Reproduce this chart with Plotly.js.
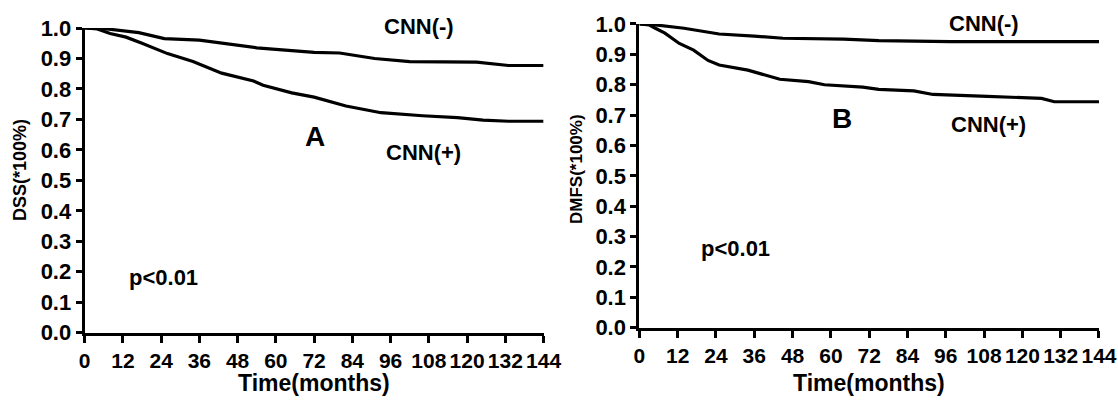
<!DOCTYPE html>
<html>
<head>
<meta charset="utf-8">
<script src="https://cdn.plot.ly/plotly-3.0.1.min.js"></script>
<style>html,body{margin:0;padding:0;background:#fff;}#chart{width:1118px;height:402px;}</style>
</head>
<body>
<div id="chart"></div>
<script>
// Panel A: DSS
const dssNegMonths = [0, 7, 17, 25, 36, 54, 72, 80, 91, 102, 123, 133, 144];
const dssNegValues = [1.0, 0.997, 0.985, 0.965, 0.96, 0.935, 0.92, 0.918, 0.90, 0.89, 0.888, 0.877, 0.877];
const dssPosMonths = [0, 4, 8, 13, 18, 26, 34, 43, 53, 56, 65, 72, 82, 93, 106, 117, 125, 133, 144];
const dssPosValues = [1.0, 0.997, 0.982, 0.97, 0.95, 0.916, 0.89, 0.852, 0.826, 0.812, 0.787, 0.773, 0.744, 0.722, 0.712, 0.706, 0.698, 0.694, 0.694];
// Panel B: DMFS
const dmfsNegMonths = [0, 5, 14, 21, 25, 36, 45, 64, 75, 97.5, 144];
const dmfsNegValues = [1.0, 0.997, 0.986, 0.975, 0.967, 0.96, 0.953, 0.95, 0.945, 0.942, 0.942];
const dmfsPosMonths = [0, 3, 5, 8, 12.5, 17, 21.5, 25, 34, 39, 44, 53, 58, 70, 75, 86, 92, 109, 120, 126, 130, 144];
const dmfsPosValues = [1.0, 0.997, 0.986, 0.97, 0.936, 0.914, 0.88, 0.865, 0.848, 0.832, 0.818, 0.81, 0.80, 0.792, 0.785, 0.78, 0.768, 0.762, 0.758, 0.755, 0.744, 0.744];

const xTickVals = [0, 12, 24, 36, 48, 60, 72, 84, 96, 108, 120, 132, 144];
const xTickText = ["0", "12", "24", "36", "48", "60", "72", "84", "96", "108", "120", "132", "144"];
const yTickVals = [0, 0.1, 0.2, 0.3, 0.4, 0.5, 0.6, 0.7, 0.8, 0.9, 1.0];
const yTickText = ["0.0", "0.1", "0.2", "0.3", "0.4", "0.5", "0.6", "0.7", "0.8", "0.9", "1.0"];

const xTitle = "Time(months)";
const yTitleA = "DSS(*100%)";
const yTitleB = "DMFS(*100%)";

const FAM = 'Liberation Sans';
const lineStyle = {color: '#000', width: 3.2};

const traces = [
  {x: dssNegMonths, y: dssNegValues, xaxis: 'x', yaxis: 'y', mode: 'lines', line: lineStyle, name: 'CNN(-)'},
  {x: dssPosMonths, y: dssPosValues, xaxis: 'x', yaxis: 'y', mode: 'lines', line: lineStyle, name: 'CNN(+)'},
  {x: dmfsNegMonths, y: dmfsNegValues, xaxis: 'x2', yaxis: 'y2', mode: 'lines', line: lineStyle, name: 'CNN(-)'},
  {x: dmfsPosMonths, y: dmfsPosValues, xaxis: 'x2', yaxis: 'y2', mode: 'lines', line: lineStyle, name: 'CNN(+)'}
];

const bold = (arr) => arr.map(t => '<b>' + t + '</b>');

function xa(domain, anchor) {
  return {
    domain: domain, anchor: anchor, range: [0, 144], autorange: false,
    tickmode: 'array', tickvals: xTickVals, ticktext: bold(xTickText), tickangle: 0,
    ticks: 'outside', ticklen: 7, tickwidth: 3, tickcolor: '#000',
    showline: true, linewidth: 3, linecolor: '#000', showgrid: false, zeroline: false,
    tickfont: {family: FAM, size: 21, color: '#000'},
    fixedrange: true
  };
}
function ya(domain, anchor) {
  return {
    domain: domain, anchor: anchor, range: [0, 1.0], autorange: false,
    tickmode: 'array', tickvals: yTickVals, ticktext: bold(yTickText),
    ticks: 'outside', ticklen: 6, tickwidth: 3, tickcolor: '#000',
    showline: true, linewidth: 3, linecolor: '#000', showgrid: false, zeroline: false,
    tickfont: {family: FAM, size: 22, color: '#000'},
    fixedrange: true
  };
}

const annFont = (s) => ({family: FAM, size: s, color: '#000'});
function ann(o) {
  o.text = '<b>' + o.text + '</b>';
  return Object.assign({showarrow: false, xanchor: 'center', yanchor: 'middle'}, o);
}

const layout = {
  width: 1118, height: 402,
  margin: {l: 0, r: 0, t: 0, b: 0},
  paper_bgcolor: '#fff', plot_bgcolor: '#fff',
  showlegend: false,
  font: {family: FAM, color: '#000'},
  xaxis: xa([0.0757, 0.4862], 'y'),
  yaxis: ya([0.1724, 0.9303], 'x'),
  xaxis2: xa([0.5719, 0.983], 'y2'),
  yaxis2: ya([0.1848, 0.9403], 'x2'),
  annotations: [
    ann({xref: 'x', yref: 'paper', x: 105, y: 1 - 27/402, text: 'CNN(-)', font: annFont(22)}),
    ann({xref: 'x', yref: 'y', x: 72.3, y: 0.645, text: 'A', font: annFont(28)}),
    ann({xref: 'x', yref: 'y', x: 106.2, y: 0.593, text: 'CNN(+)', font: annFont(22)}),
    ann({xref: 'x', yref: 'y', x: 24.8, y: 0.18, text: 'p&lt;0.01', font: annFont(22)}),
    ann({xref: 'x2', yref: 'paper', x: 108, y: 1 - 23/402, text: 'CNN(-)', font: annFont(22)}),
    ann({xref: 'x2', yref: 'y2', x: 63.6, y: 0.69, text: 'B', font: annFont(28)}),
    ann({xref: 'x2', yref: 'y2', x: 109.5, y: 0.67, text: 'CNN(+)', font: annFont(22)}),
    ann({xref: 'x2', yref: 'y2', x: 30, y: 0.26, text: 'p&lt;0.01', font: annFont(22)}),
    ann({xref: 'x', yref: 'paper', x: 72, y: 1 - 383/402, text: xTitle, font: annFont(23)}),
    ann({xref: 'x2', yref: 'paper', x: 72, y: 1 - 383/402, text: xTitle, font: annFont(23)}),
    ann({xref: 'paper', yref: 'paper', x: 20/1118, y: 1 - 170/402, text: yTitleA, textangle: -90, font: annFont(18)}),
    ann({xref: 'paper', yref: 'paper', x: 577/1118, y: 1 - 169/402, text: yTitleB, textangle: -90, font: annFont(17)})
  ]
};

Plotly.newPlot('chart', traces, layout, {displayModeBar: false, staticPlot: true});
</script>
</body>
</html>
